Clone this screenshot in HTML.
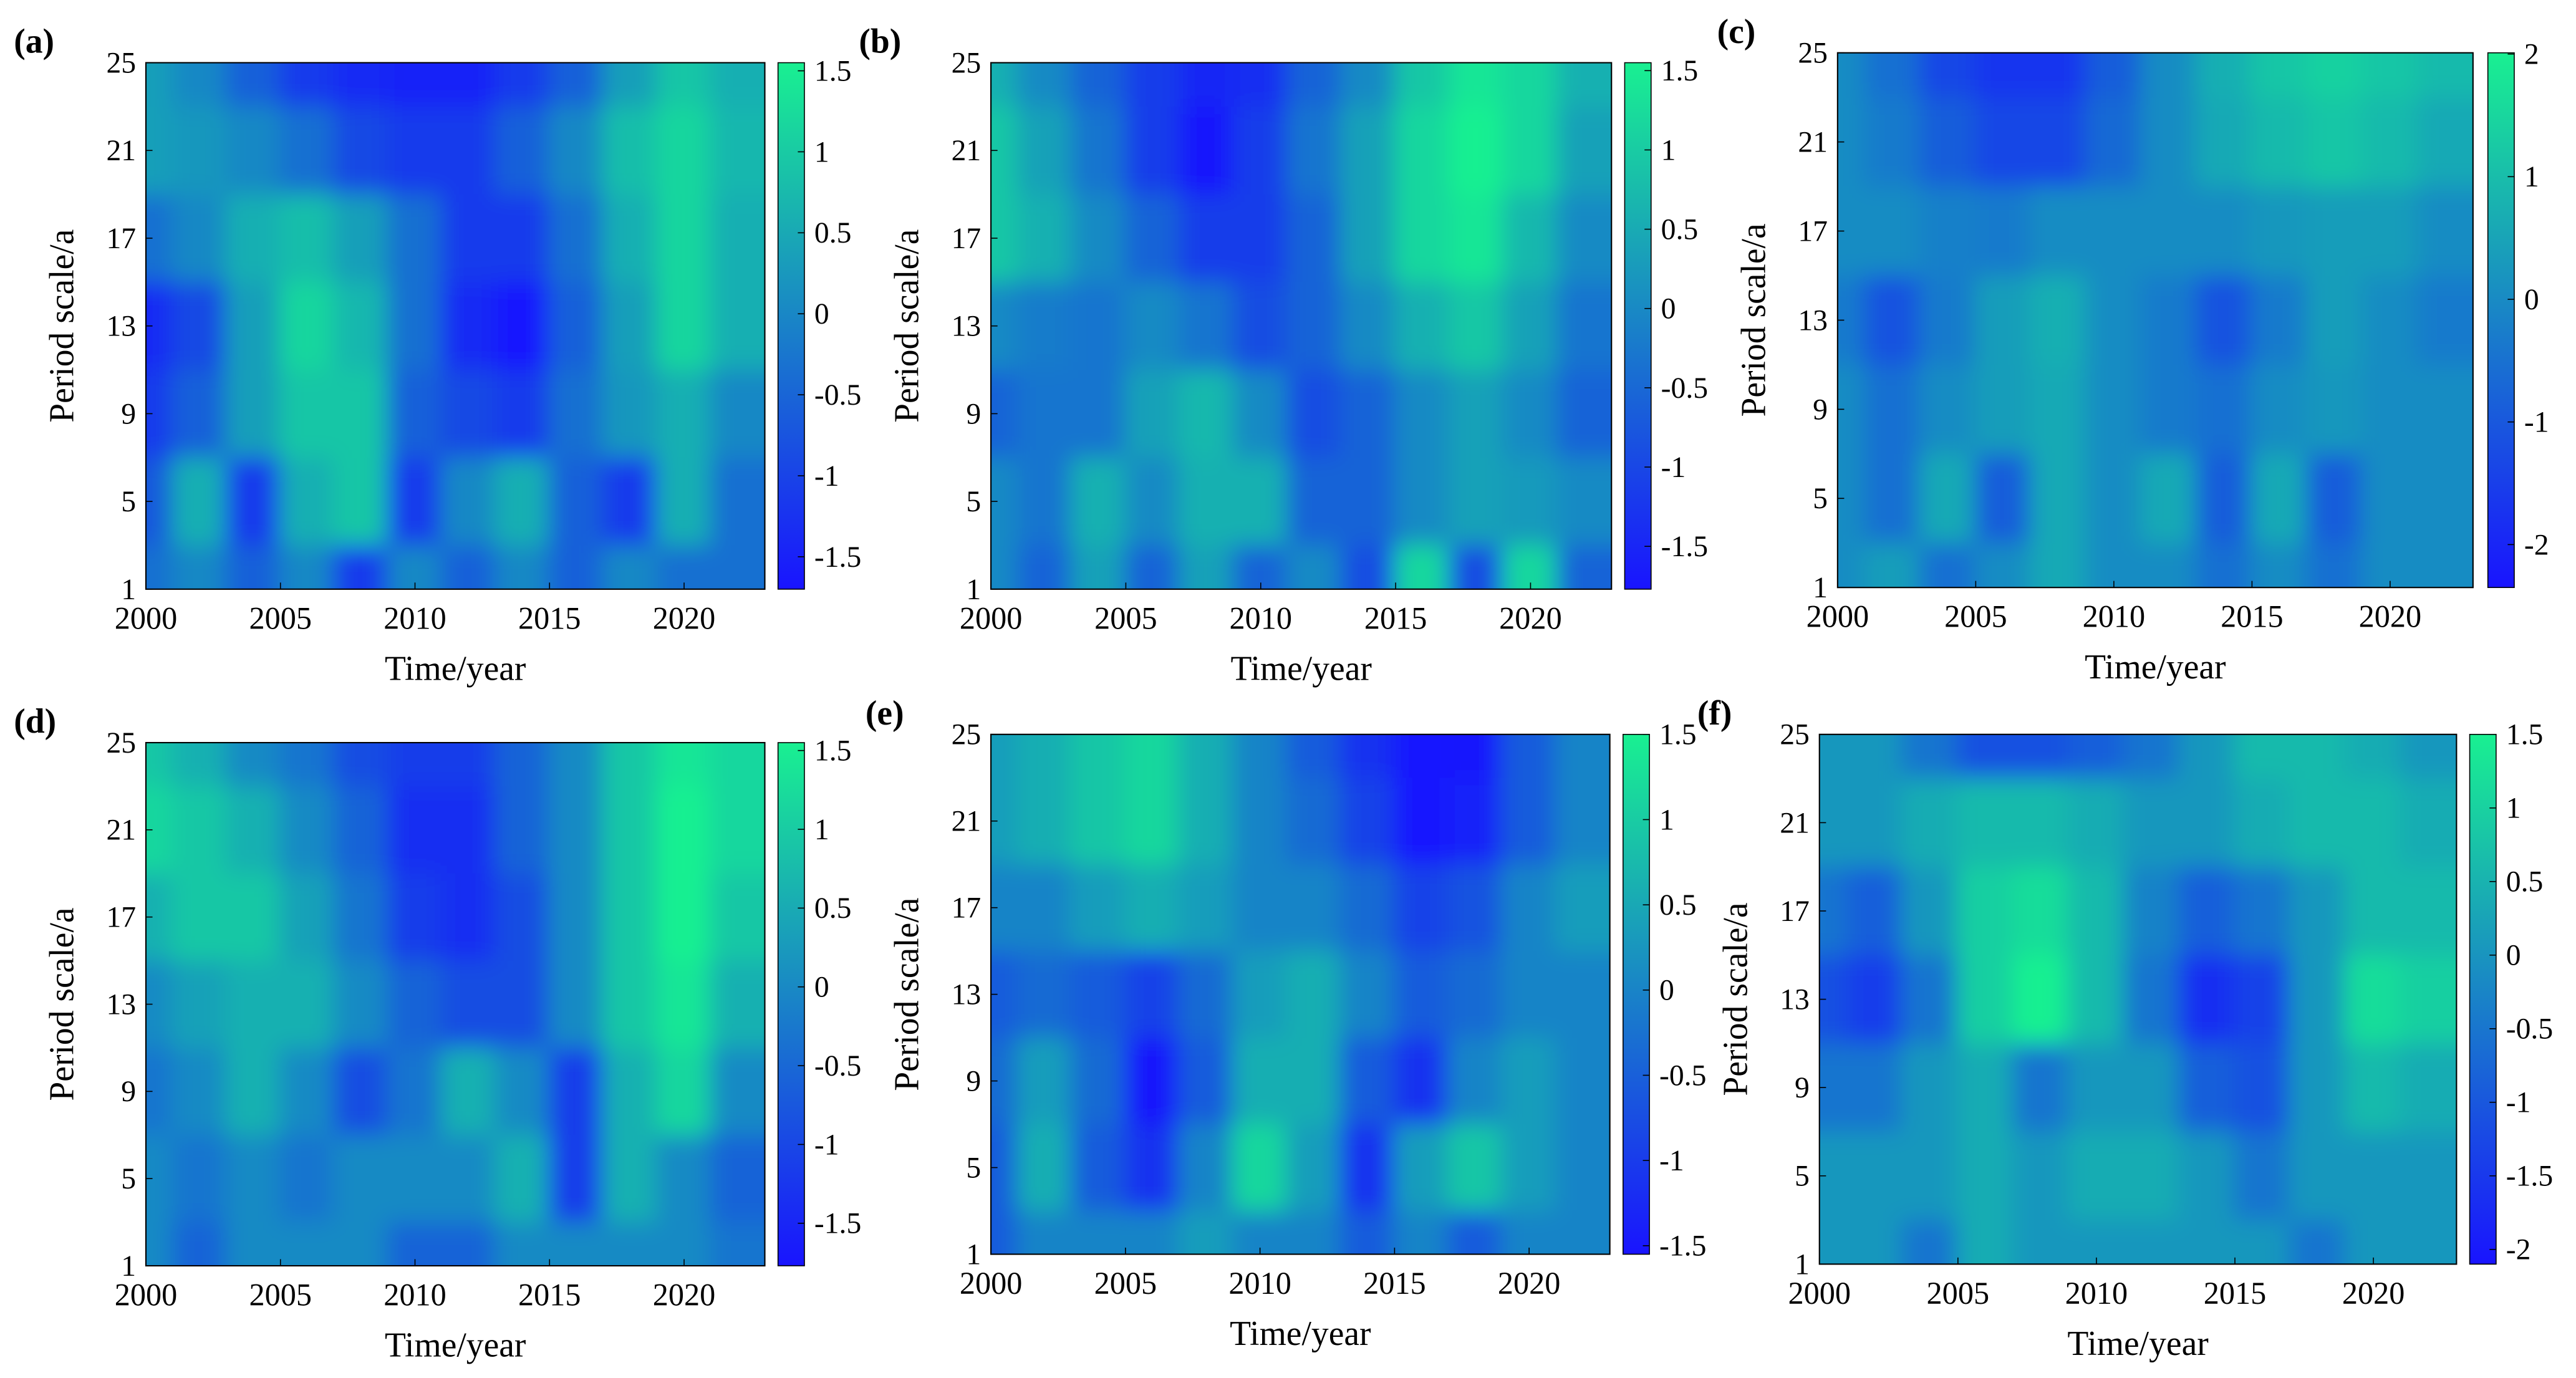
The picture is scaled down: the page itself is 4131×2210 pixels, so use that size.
<!DOCTYPE html>
<html><head><meta charset="utf-8">
<style>
html,body{margin:0;padding:0;background:#fff;}
svg{display:block;}
text{font-family:"Liberation Serif",serif;fill:#000;}
</style></head>
<body>
<svg id="fig" width="4131" height="2210" viewBox="0 0 1560 835" xmlns="http://www.w3.org/2000/svg">
<defs>
<filter id="blur" x="-5%" y="-5%" width="110%" height="110%"><feGaussianBlur stdDeviation="7"/></filter>
</defs>
</svg>
<script>
// ---- shared axis data ----
const periodRows = [25, 21, 17, 13, 9, 5, 1];
const yearCols = [2000, 2002, 2004, 2006, 2008, 2010, 2012, 2014, 2016, 2018, 2020, 2022];
const yTicks = [1, 5, 9, 13, 17, 21, 25];
const xTicks = [2000, 2005, 2010, 2015, 2020];
const cbTicks15 = [1.5, 1, 0.5, 0, -0.5, -1, -1.5];
const cbTicks2 = [2, 1, 0, -1, -2];
const cbTicksF = [1.5, 1, 0.5, 0, -0.5, -1, -1.5, -2];

// ---- panel values (rows = periodRows, cols = yearCols) ----
const valuesA = [
 [0.3,0,-0.5,-1,-1.2,-1.3,-1.3,-1,-0.5,0.3,0.8,0.5],
 [0.3,0.2,0,-0.3,-0.8,-1,-1,-0.5,0,0.7,1,0.6],
 [-0.3,0,0.5,0.7,0.3,-0.3,-1,-1,-0.3,0.5,1,0.5],
 [-1.2,-0.8,0.3,1,0.6,-0.3,-1.2,-1.5,-0.5,0.3,1,0.5],
 [-1,-0.5,0.3,0.8,0.8,-0.5,-0.8,-1,-0.3,0.2,0.5,0],
 [-0.6,0.5,-1,0.5,0.8,-1,0,0.5,-0.5,-1,0.5,-0.3],
 [-0.3,0,-0.5,0,-1,0,-0.5,0,-0.5,0,-0.3,-0.3]];
const valuesB = [
 [0.5,0,-0.5,-1,-1.3,-1.2,-0.5,0,0.8,1.2,1,0.5],
 [0.8,0.3,-0.3,-1,-1.5,-1,-0.3,0.3,1,1.5,1,0.3],
 [0.8,0.5,0,-0.5,-1,-1,-0.5,0.3,1,1.2,0.6,0],
 [0,-0.2,-0.3,0,-0.3,-0.8,-0.5,0,0.5,0.8,0.3,-0.3],
 [-0.5,-0.3,-0.3,0.3,0.6,0,-0.8,-0.5,0,0.3,0,-0.5],
 [0,-0.3,0.5,0,0.5,0.5,-0.5,-0.5,0,0.3,0.2,0],
 [0,-0.5,0.3,-0.5,0.3,-0.5,0,-0.8,1,-0.8,1,-0.5]];
const valuesC = [
 [0,-0.5,-1.2,-1.5,-1.5,-0.8,0,0.6,1,1.2,1,0.8],
 [0,-0.3,-0.8,-1.2,-1.2,-0.6,0,0.5,0.8,1,0.8,0.5],
 [0,0,-0.2,-0.3,0,0,0,0,0.2,0.3,0.3,0],
 [-0.3,-1,-0.3,0.3,0.6,0,-0.3,-1,-0.3,0.3,0,-0.3],
 [0,-0.5,0,0.3,0.5,0,-0.3,-0.5,0,0.2,0,0],
 [0,-0.5,0.5,-0.8,0.5,0,0.5,-0.8,0.5,-0.8,0,0],
 [0,0.3,-0.5,0,0.5,0,0,-0.5,0,-0.5,0,0]];
const valuesD = [
 [0.8,0.5,0,-0.3,-0.8,-1,-1,-0.5,0,0.8,1.2,1],
 [1,0.8,0.5,0,-0.5,-1.2,-1.2,-0.5,0,0.8,1.5,1],
 [0.5,0.8,0.8,0.3,-0.3,-1,-1.2,-0.8,0,0.8,1.5,0.8],
 [0,0.3,0.5,0.5,0,-0.5,-0.8,-0.8,0,0.8,1.2,0.5],
 [-0.3,0,0.5,0,-0.8,-0.3,0.5,0,-1,0.5,1,0],
 [0,-0.3,0,-0.3,0,0,0,0.5,-1,0.5,0,-0.5],
 [0,-0.5,0,0,0,-0.5,-0.5,0,0,0,0,-0.3]];
const valuesE = [
 [0.3,0.5,0.8,1,0.5,0,-0.5,-1,-1.5,-1.3,-0.5,0],
 [0.3,0.5,0.8,1,0.5,0,-0.3,-0.8,-1.5,-1.2,-0.5,0],
 [0,0,0.3,0.5,0.3,0,0,-0.3,-0.8,-0.6,0,0.3],
 [-0.5,-0.3,-0.5,-0.8,-0.3,0.3,0.5,0,-0.5,-0.3,0,0],
 [-0.3,0.3,-0.3,-1.3,-0.5,0.5,0.5,-0.5,-1,0,0.3,0],
 [-0.5,0.5,-0.5,-1,0,1,0.3,-1,0.3,0.8,0.3,0],
 [-0.5,0,0,0,0.3,0,0,-0.5,0,-0.5,0,0]];
const valuesF = [
 [0,0,-0.5,-1,-1,-0.8,-0.5,0,0.5,0.5,0.3,0],
 [0,0,0.3,0.5,0.5,0.3,0,0,0.3,0.5,0.5,0.3],
 [-0.5,-0.8,0,0.8,1,0.5,-0.3,-0.8,-0.5,0,0.5,0.5],
 [-1,-1.3,-0.5,0.8,1.3,0.5,-0.5,-1.5,-1.2,0,1,0.8],
 [-0.5,-0.5,0,0.3,-0.5,0,0,-0.8,-1,0,0.5,0.3],
 [0,0,0,0.3,0,0.3,0.3,0,-0.5,0,0,0],
 [0,0,-0.5,0.3,0,0,0,0,0,-0.5,0,0]];

// ---- layout ----
const panels = [
 {id:'a', v:valuesA, x0:88,  x1:463, y0:38,  y1:357, cx:471, cmax:1.55, cmin:-1.70, ticks:cbTicks15, lx:8},
 {id:'b', v:valuesB, x0:600, x1:976, y0:38,  y1:357, cx:984, cmax:1.55, cmin:-1.77, ticks:cbTicks15, lx:520},
 {id:'c', v:valuesC, x0:1113,x1:1498,y0:32,  y1:356, cx:1507,cmax:2.01, cmin:-2.35, ticks:cbTicks2, lx:1040},
 {id:'d', v:valuesD, x0:88,  x1:463, y0:450, y1:767, cx:471, cmax:1.55, cmin:-1.77, ticks:cbTicks15, lx:8},
 {id:'e', v:valuesE, x0:600, x1:975, y0:445, y1:760, cx:983, cmax:1.50, cmin:-1.55, ticks:cbTicks15, lx:524},
 {id:'f', v:valuesF, x0:1102,x1:1488,y0:445, y1:766, cx:1496,cmax:1.50, cmin:-2.10, ticks:cbTicksF, lx:1028}];

const NS='http://www.w3.org/2000/svg';
const svg=document.getElementById('fig');
function mk(tag,attrs,parent){const e=document.createElementNS(NS,tag);for(const k in attrs)e.setAttribute(k,attrs[k]);(parent||svg).appendChild(e);return e;}
function winter(t){t=Math.max(0,Math.min(1,t));return 'rgb('+Math.round(25*(1-t)+25*t)+','+Math.round(20+220*t)+','+Math.round(255-110*t)+')';}

panels.forEach(p=>{
  const W=p.x1-p.x0,H=p.y1-p.y0;
  const xs=yr=>p.x0+(yr-2000)/23*W;
  const ys=per=>p.y1-(per-1)/24*H;
  const mid=(p.cmax+p.cmin)/2;
  const col=v=>winter((mid+(v-mid)*1.15-p.cmin)/(p.cmax-p.cmin));
  const g=mk('g',{});
  
  
  const cp=mk('clipPath',{id:'clip'+p.id},g);
  mk('rect',{x:p.x0,y:p.y0,width:W,height:H},cp);
  const cg=mk('g',{'clip-path':'url(#clip'+p.id+')'},g);
  mk('rect',{x:p.x0,y:p.y0,width:W,height:H,fill:col(0)},cg);
  const hg=mk('g',{filter:'url(#blur)'},cg);
  const nc=yearCols.length,nr=periodRows.length;
  const cw=W/(nc-1),ch=H/(nr-1);
  p.v.forEach((row,r)=>row.forEach((val,c)=>{
    const cx=xs(yearCols[c]),cy=ys(periodRows[r]);
    let x=cx-cw/2,w=cw,y=cy-ch/2,h=ch;
    if(c===0){x-=30;w+=30;} if(c===nc-1){w+=40;}
    if(r===0){y-=30;h+=30;} if(r===nr-1){h+=30;}
    const cell=mk('rect',{x:x,y:y,width:w+0.5,height:h+0.5,fill:col(val)},hg);
    
    
  }));
  mk('rect',{x:p.x0,y:p.y0,width:W,height:H,fill:'none',stroke:'#000','stroke-width':0.8},g);
  yTicks.forEach(t=>{
    const y=ys(t);
    mk('line',{x1:p.x0,x2:p.x0+4,y1:y,y2:y,stroke:'#000','stroke-width':0.6},g);
    const tx=mk('text',{x:p.x0-6,y:y+6,'text-anchor':'end','font-size':18},g);tx.textContent=t;
    
    
  });
  xTicks.forEach(t=>{
    const x=xs(t);
    mk('line',{x1:x,x2:x,y1:p.y1,y2:p.y1-4,stroke:'#000','stroke-width':0.6},g);
    const tx=mk('text',{x:x,y:p.y1+24,'text-anchor':'middle','font-size':19},g);tx.textContent=t;
    
    
  });
  const xl=mk('text',{x:(p.x0+p.x1)/2,y:p.y1+55,'text-anchor':'middle','font-size':21},g);xl.textContent='Time/year';
  
  
  const yx=p.x0-44,yy=(p.y0+p.y1)/2;
  const yl=mk('text',{x:yx,y:yy,'text-anchor':'middle','font-size':21,transform:'rotate(-90 '+yx+' '+yy+')'},g);yl.textContent='Period scale/a';
  
  
  const pl=mk('text',{x:p.lx,y:p.y0-6,'font-size':21,'font-weight':'bold'},g);pl.textContent='('+p.id+')';
  
  
  // colorbar
  const gid='grad'+p.id;
  const lg=mk('linearGradient',{id:gid,x1:0,y1:1,x2:0,y2:0},g);
  mk('stop',{offset:0,'stop-color':winter(0)},lg);
  mk('stop',{offset:0.5,'stop-color':winter(0.5)},lg);
  mk('stop',{offset:1,'stop-color':winter(1)},lg);
  const cb=mk('rect',{x:p.cx,y:p.y0,width:16,height:H,fill:'url(#'+gid+')',stroke:'#000','stroke-width':0.6},g);
  
  
  p.ticks.forEach(t=>{
    const y=p.y0+(p.cmax-t)/(p.cmax-p.cmin)*H;
    mk('line',{x1:p.cx+12,x2:p.cx+16,y1:y,y2:y,stroke:'#000','stroke-width':0.6},g);
    const tx=mk('text',{x:p.cx+22,y:y+6,'font-size':18},g);tx.textContent=t;
    
    
  });
});
</script>
</body></html>
